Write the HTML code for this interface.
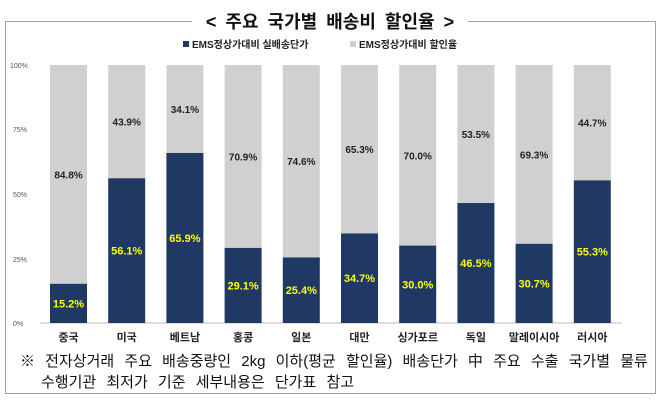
<!DOCTYPE html>
<html><head><meta charset="utf-8"><style>
body{margin:0;background:#fff;width:660px;height:401px;overflow:hidden;font-family:"Liberation Sans","Noto Sans CJK KR",sans-serif;}
.box{position:absolute;left:5px;top:21px;width:649px;height:371px;border:1px solid #a0a0a0;}
.title{position:absolute;left:0;width:660px;top:8px;text-align:center;font-size:18px;font-weight:bold;color:#111;word-spacing:4px;}
.title span{background:#fff;padding:0 14px;}
.note{position:absolute;left:20px;font-size:15px;color:#111;white-space:nowrap;word-spacing:6px;}
</style></head><body>
<div class="box"></div>
<div class="title"><span>&lt; 주요 국가별 배송비 할인율 &gt;</span></div>
<svg width="660" height="401" style="position:absolute;left:0;top:0" font-family="Liberation Sans, Noto Sans CJK KR, sans-serif">
<rect x="183" y="41" width="6" height="6" fill="#1f3864"/>
<text x="192" y="48" font-size="10" font-weight="bold" fill="#222">EMS정상가대비 실배송단가</text>
<rect x="350" y="41" width="6" height="6" fill="#d0d0d0"/>
<text x="359" y="48" font-size="10" font-weight="bold" fill="#222">EMS정상가대비 할인율</text>
<g font-size="7" fill="#555">
<text x="10" y="68">100%</text><text x="13" y="197">50%</text><text x="13" y="326">0%</text>
<text x="13" y="132">75%</text><text x="13" y="262">25%</text>
</g>
<line x1="40" y1="323" x2="622" y2="323" stroke="#bbb"/>
<g id="bars"></g>
</svg>
<div class="note" style="top:350px">※ 전자상거래 주요 배송중량인 2kg 이하(평균 할인율) 배송단가 中 주요 수출 국가별 물류</div>
<div class="note" style="top:371px;left:41px">수행기관 최저가 기준 세부내용은 단가표 참고</div>
<script>
var d=[["중국",15.2],["미국",56.1],["베트남",65.9],["홍콩",29.1],["일본",25.4],["대만",34.7],["싱가포르",30.0],["독일",46.5],["말레이시아",30.7],["러시아",55.3]];
var g=document.getElementById('bars'),s='';
d.forEach(function(e,i){var x=50+i*58.2,w=37,t=65,b=323,h=258,y=b-e[1]/100*h;
s+='<rect x="'+x+'" y="'+t+'" width="'+w+'" height="'+(y-t)+'" fill="#d0d0d0"/>';
s+='<rect x="'+x+'" y="'+y+'" width="'+w+'" height="'+(b-y)+'" fill="#1f3864"/>';
s+='<text x="'+(x+w/2)+'" y="'+((t+y)/2+4)+'" font-size="10" font-weight="bold" text-anchor="middle" fill="#222">'+(100-e[1]).toFixed(1)+'%</text>';
s+='<text x="'+(x+w/2)+'" y="'+((y+b)/2+4)+'" font-size="11" font-weight="bold" text-anchor="middle" fill="#ffff00">'+e[1].toFixed(1)+'%</text>';
s+='<text x="'+(x+w/2)+'" y="341" font-size="11" font-weight="bold" text-anchor="middle" fill="#222">'+e[0]+'</text>';});
g.innerHTML=s;
</script>
</body></html>
